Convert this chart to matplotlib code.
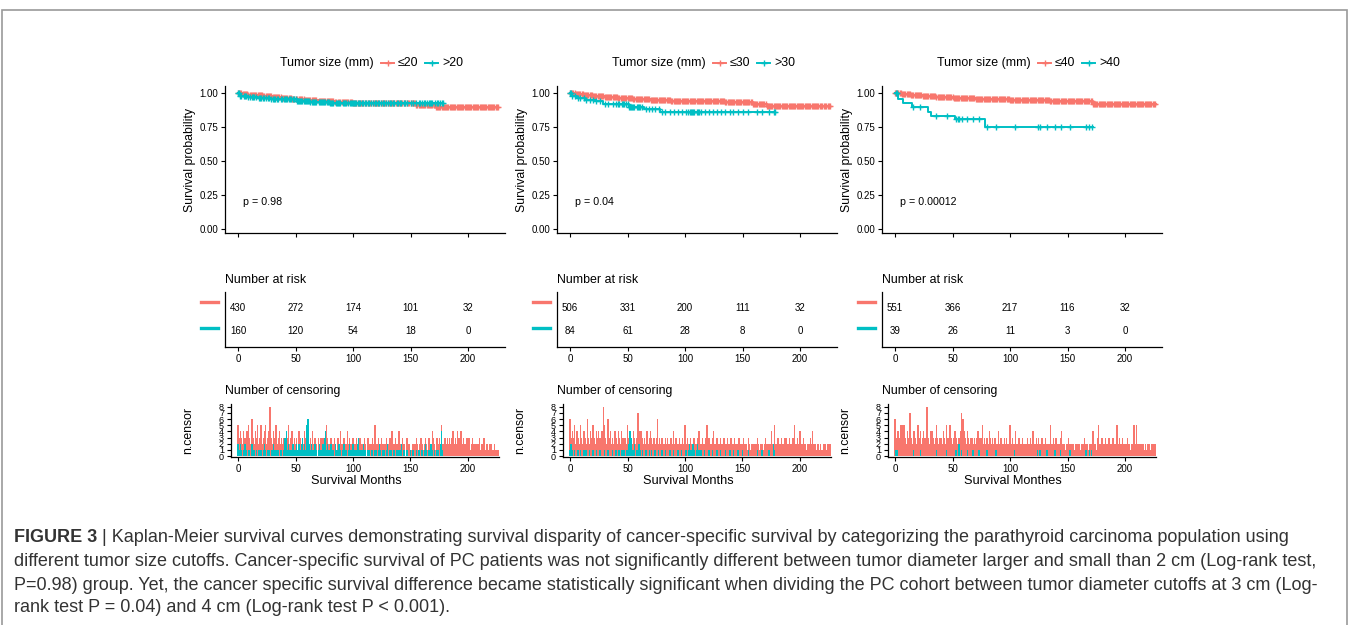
import numpy as np
import matplotlib
matplotlib.use('Agg')
import matplotlib.pyplot as plt
from matplotlib.lines import Line2D
from matplotlib.patches import Rectangle
from matplotlib import font_manager

plt.rcParams['font.family'] = ['Liberation Sans', 'DejaVu Sans']

W, H = 1350, 625
RED = '#F8766D'
TEAL = '#00BFC4'

# ---------------- data ----------------
cutoffs = ['20', '30', '40']
pvals = ['p = 0.98', 'p = 0.04', 'p = 0.00012']
xlabels = ['Survival Months', 'Survival Months', 'Survival Monthes']

risk_times = [0, 50, 100, 150, 200]
risk_lo = [[430, 272, 174, 101, 32], [506, 331, 200, 111, 32], [551, 366, 217, 116, 32]]
risk_hi = [[160, 120, 54, 18, 0], [84, 61, 28, 8, 0], [39, 26, 11, 3, 0]]

# Kaplan-Meier steps (time in months, survival)
km1_lo_t = [0, 4, 9, 15, 22, 30, 38, 47, 58, 70, 84, 100, 130, 155, 172, 226]
km1_lo_s = [1.0, 0.995, 0.99, 0.984, 0.977, 0.97, 0.963, 0.956, 0.949, 0.943, 0.937, 0.932, 0.928, 0.912, 0.898, 0.898]
km1_hi_t = [0, 2, 8, 17, 29, 51, 63, 80, 178]
km1_hi_s = [1.0, 0.983, 0.975, 0.963, 0.956, 0.946, 0.939, 0.929, 0.929]

km2_lo_t = [0, 5, 12, 20, 30, 42, 55, 70, 88, 110, 135, 159, 171, 226]
km2_lo_s = [1.0, 0.993, 0.986, 0.979, 0.972, 0.965, 0.958, 0.952, 0.946, 0.941, 0.936, 0.922, 0.907, 0.907]
km2_hi_t = [0, 1.5, 6, 13, 23, 29, 51, 64, 78, 178]
km2_hi_s = [1.0, 0.98, 0.963, 0.951, 0.94, 0.919, 0.902, 0.882, 0.862, 0.862]

km3_lo_t = [0, 6, 14, 24, 36, 51, 70, 100, 135, 172, 227]
km3_lo_s = [1.0, 0.994, 0.988, 0.98, 0.972, 0.963, 0.957, 0.951, 0.94, 0.918, 0.918]
km3_hi_t = [0, 3, 7, 14.5, 29, 31, 52, 78, 172]
km3_hi_s = [1.0, 0.958, 0.93, 0.897, 0.865, 0.836, 0.809, 0.748, 0.748]

# number censored per month (month 0, 1, 2, ...)
cens1_lo = [5, 3, 4, 3, 2, 4, 3, 1, 4, 5, 3, 2, 6, 3, 2, 4, 3, 5, 2, 3,
            5, 2, 3, 4, 5, 2, 3, 4, 8, 3, 2, 4, 3, 5, 2, 3, 4, 2, 3, 2,
            3, 2, 4, 3, 5, 2, 3, 4, 2, 3, 2, 3, 0, 4, 3, 2, 3, 2, 4, 3,
            2, 3, 2, 3, 2, 4, 2, 3, 2, 0, 3, 2, 3, 2, 3, 2, 2, 5, 3, 2,
            2, 3, 2, 2, 3, 2, 0, 3, 2, 4, 2, 2, 3, 2, 2, 4, 2, 3, 2, 2,
            3, 2, 2, 3, 2, 1, 3, 2, 2, 2, 3, 2, 0, 3, 2, 2, 2, 3, 2, 5,
            2, 2, 3, 2, 2, 3, 2, 1, 2, 3, 2, 2, 3, 2, 4, 2, 2, 3, 2, 2,
            4, 2, 2, 3, 2, 2, 0, 3, 2, 2, 1, 1, 2, 1, 2, 3, 2, 1, 2, 3,
            2, 1, 2, 3, 2, 1, 3, 2, 2, 4, 3, 2, 1, 3, 2, 3, 2, 5, 2, 2,
            3, 2, 3, 2, 3, 2, 3, 4, 2, 3, 2, 4, 3, 2, 4, 2, 3, 2, 2, 3,
            2, 3, 1, 2, 3, 2, 2, 1, 2, 2, 3, 1, 2, 2, 3, 1, 2, 2, 1, 2,
            2, 1, 1, 2, 1, 1, 1]
cens1_hi = [2, 1, 2, 1, 0, 1, 2, 1, 0, 1, 1, 0, 2, 1, 1, 0, 1, 0, 1, 1,
            1, 0, 1, 2, 1, 0, 1, 1, 0, 1, 1, 2, 1, 0, 1, 1, 0, 1, 1, 0,
            1, 3, 4, 1, 2, 1, 1, 0, 2, 1, 1, 2, 1, 2, 1, 2, 3, 1, 2, 1,
            5, 6, 2, 1, 2, 1, 1, 2, 1, 0, 1, 2, 1, 1, 2, 3, 4, 1, 2, 1,
            1, 2, 1, 1, 0, 2, 1, 1, 2, 1, 0, 1, 2, 1, 1, 0, 1, 2, 1, 1,
            2, 1, 1, 1, 2, 3, 1, 0, 1, 2, 1, 1, 0, 1, 1, 0, 1, 1, 0, 1,
            1, 0, 1, 2, 1, 0, 1, 1, 0, 1, 2, 0, 1, 1, 0, 1, 1, 0, 1, 1,
            0, 1, 2, 0, 1, 1, 0, 1, 0, 0, 1, 0, 1, 0, 0, 1, 0, 1, 1, 0,
            1, 0, 1, 2, 1, 0, 1, 1, 2, 1, 0, 1, 0, 1, 1, 0, 2, 4, 1]

cens2_lo = [6, 3, 4, 3, 5, 2, 4, 3, 2, 5, 3, 2, 4, 3, 2, 6, 3, 2, 4, 3,
            5, 3, 2, 4, 3, 4, 3, 2, 4, 8, 5, 3, 2, 6, 3, 4, 2, 3, 2, 4,
            3, 2, 4, 3, 2, 4, 3, 2, 3, 2, 5, 3, 2, 3, 2, 4, 3, 2, 3, 7,
            3, 4, 4, 3, 2, 3, 2, 4, 2, 3, 4, 3, 2, 3, 2, 3, 6, 2, 3, 2,
            3, 2, 2, 3, 2, 3, 2, 2, 3, 2, 4, 2, 3, 2, 2, 3, 2, 2, 3, 2,
            5, 2, 3, 2, 2, 3, 2, 2, 3, 2, 2, 3, 4, 2, 2, 3, 2, 2, 3, 5,
            2, 3, 2, 2, 3, 4, 2, 2, 3, 2, 2, 3, 2, 2, 3, 2, 2, 3, 2, 2,
            3, 2, 2, 3, 2, 2, 2, 3, 2, 2, 2, 3, 2, 2, 1, 3, 2, 1, 2, 2,
            1, 2, 2, 3, 2, 1, 2, 2, 1, 2, 3, 2, 2, 1, 2, 4, 2, 2, 5, 2,
            2, 3, 2, 2, 3, 2, 2, 3, 3, 2, 2, 3, 2, 2, 3, 5, 2, 2, 3, 2,
            4, 2, 2, 3, 2, 2, 1, 2, 2, 3, 2, 4, 2, 2, 1, 2, 2, 1, 2, 1,
            0, 2, 2, 1, 2, 2, 2]
cens2_hi = [1, 2, 1, 0, 1, 0, 0, 1, 0, 1, 0, 0, 1, 0, 1, 0, 0, 1, 0, 0,
            1, 0, 0, 1, 0, 0, 1, 0, 0, 0, 1, 0, 0, 1, 0, 0, 0, 1, 0, 0,
            1, 0, 1, 1, 0, 1, 1, 1, 0, 1, 1, 2, 4, 3, 1, 1, 2, 0, 1, 1,
            2, 1, 0, 1, 0, 0, 1, 0, 0, 1, 0, 1, 0, 0, 1, 0, 0, 1, 0, 0,
            1, 0, 0, 1, 0, 0, 0, 1, 0, 0, 1, 0, 0, 0, 1, 0, 0, 1, 0, 0,
            0, 1, 0, 1, 2, 1, 1, 2, 1, 0, 1, 2, 1, 0, 1, 0, 0, 1, 0, 0,
            0, 1, 0, 0, 1, 0, 0, 0, 1, 0, 0, 1, 0, 0, 0, 1, 0, 0, 0, 1,
            0, 0, 1, 0, 0, 0, 1, 0, 0, 0, 1, 0, 0, 0, 0, 1, 0, 0, 0, 0,
            0, 0, 0, 1, 0, 0, 0, 1, 0, 0, 0, 0, 0, 1, 0, 0, 0, 2, 1]

cens3_lo = [6, 3, 4, 4, 3, 5, 5, 4, 5, 3, 2, 4, 3, 7, 3, 2, 4, 4, 3, 2,
            5, 3, 4, 2, 3, 4, 3, 2, 8, 3, 2, 4, 4, 3, 2, 3, 5, 3, 2, 3,
            3, 2, 4, 3, 2, 5, 3, 2, 5, 3, 2, 3, 4, 3, 2, 3, 3, 4, 7, 6,
            4, 3, 2, 4, 3, 2, 3, 3, 2, 3, 2, 3, 4, 2, 3, 3, 5, 2, 3, 2,
            3, 2, 4, 3, 2, 3, 2, 3, 2, 2, 4, 2, 3, 2, 2, 3, 2, 3, 2, 2,
            5, 2, 3, 2, 2, 4, 2, 2, 3, 2, 2, 3, 2, 2, 2, 3, 2, 2, 3, 2,
            4, 2, 2, 3, 2, 3, 2, 2, 3, 2, 2, 3, 2, 2, 2, 5, 2, 2, 3, 2,
            3, 2, 2, 2, 3, 4, 2, 2, 1, 2, 2, 3, 2, 1, 2, 2, 1, 2, 2, 2,
            2, 1, 2, 2, 2, 3, 2, 2, 1, 2, 2, 2, 4, 2, 2, 1, 3, 5, 2, 2,
            3, 2, 2, 3, 2, 2, 3, 2, 2, 3, 3, 2, 2, 5, 2, 3, 2, 2, 3, 2,
            2, 2, 3, 2, 2, 1, 2, 2, 5, 2, 5, 2, 2, 1, 2, 2, 2, 1, 2, 1,
            2, 2, 1, 2, 2, 2, 2]
# sparse group: months with censoring and counts
cens3_hi_m = [1, 2, 16, 22, 36, 45, 53, 55, 56, 58, 63, 68, 73, 80, 88, 104,
              124, 126, 132, 139, 144, 152, 166, 169, 171]
cens3_hi_n = [1, 1, 1, 1, 1, 1, 1, 2, 2, 1, 1, 1, 1, 1, 1, 1,
              1, 1, 1, 1, 1, 1, 1, 1, 1]

panels = [
    (km1_lo_t, km1_lo_s, km1_hi_t, km1_hi_s,
     np.arange(len(cens1_lo)), cens1_lo, np.arange(len(cens1_hi)), cens1_hi),
    (km2_lo_t, km2_lo_s, km2_hi_t, km2_hi_s,
     np.arange(len(cens2_lo)), cens2_lo, np.arange(len(cens2_hi)), cens2_hi),
    (km3_lo_t, km3_lo_s, km3_hi_t, km3_hi_s,
     np.arange(len(cens3_lo)), cens3_lo, np.array(cens3_hi_m), cens3_hi_n),
]

# ---------------- layout (pixels) ----------------
zero_px = [238, 570, 895]     # x pixel of month 0 in each column
PXM = 1.15                    # pixels per month
XL = (-11, 232)
XL_C = (-6.1, 227)

fig = plt.figure(figsize=(13.5, 6.25), dpi=100)
renderer = fig.canvas.get_renderer()


def px_axes(x0, y0, x1, y1):
    return fig.add_axes([x0 / W, 1 - y1 / H, (x1 - x0) / W, (y1 - y0) / H])


def style(ax):
    for s in ['top', 'right']:
        ax.spines[s].set_visible(False)
    for s in ['left', 'bottom']:
        ax.spines[s].set_linewidth(0.9)
    ax.tick_params(length=3, width=0.8, labelsize=7, pad=2, colors='black')


def ftext(x, y, s, **kw):
    return fig.text(x / W, 1 - y / H, s, **kw)


def surv_at(t, s, m):
    idx = np.searchsorted(t, m, side='right') - 1
    return np.array(s)[idx]


for i, (lt, ls, ht, hs, lm, lc, hm, hc) in enumerate(panels):
    z = zero_px[i]
    lc = np.array(lc)
    hc = np.array(hc)

    # survival curves
    ax = px_axes(z + XL[0] * PXM, 86, z + XL[1] * PXM, 233)
    style(ax)
    for t, s, m, c, col in [(lt, ls, lm, lc, RED), (ht, hs, hm, hc, TEAL)]:
        ax.step(t, s, where='post', color=col, lw=1.4)
        keep = (c > 0) & (m <= t[-1])
        ax.plot(m[keep], surv_at(t, s, m[keep]), '+', color=col, ms=4.5, mew=1.0)
    ax.set_xlim(*XL)
    ax.set_ylim(-0.03, 1.054)
    ax.set_xticks(risk_times)
    ax.set_xticklabels([])
    ax.set_yticks([0, 0.25, 0.5, 0.75, 1.0])
    ax.set_yticklabels(['0.00', '0.25', '0.50', '0.75', '1.00'])
    ax.text(4.3, 0.2, pvals[i], fontsize=7.7, va='center', ha='left')
    ftext(z - 48, 160, 'Survival probability', rotation=90, fontsize=8.8,
          ha='center', va='center')

    # legend on top
    ftext(z + 42, 63, 'Tumor size (mm)', fontsize=8.9, va='center')
    for x0, col, lab in [(z + 143, RED, '\u2264' + cutoffs[i]), (z + 187, TEAL, '>' + cutoffs[i])]:
        fig.add_artist(Line2D([x0 / W, (x0 + 13) / W], [1 - 63 / H] * 2, color=col, lw=1.4))
        fig.add_artist(Line2D([(x0 + 6.5) / W], [1 - 63 / H], marker='+', color=col, ms=4.5, mew=1.0))
        ftext(x0 + 17, 63, lab, fontsize=8.9, va='center')

    # number at risk table
    ftext(z - 13, 280, 'Number at risk', fontsize=8.9, va='center')
    rax = px_axes(z + XL[0] * PXM, 292, z + XL[1] * PXM, 347)
    style(rax)
    rax.set_xlim(*XL)
    rax.set_ylim(-0.69, 1.67)
    rax.set_xticks(risk_times)
    rax.set_yticks([])
    for t, a, b in zip(risk_times, risk_lo[i], risk_hi[i]):
        rax.text(t, 1, str(a), fontsize=7, ha='center', va='center')
        rax.text(t, 0, str(b), fontsize=7, ha='center', va='center')
    for yk, col in [(302, RED), (327.5, TEAL)]:
        fig.add_artist(Line2D([(z - 37) / W, (z - 20) / W], [1 - yk / H] * 2, color=col, lw=2.4))

    # number of censoring
    ftext(z - 13, 391, 'Number of censoring', fontsize=8.9, va='center')
    cax = px_axes(z + XL_C[0] * PXM, 404, z + XL_C[1] * PXM, 457)
    style(cax)
    cax.bar(lm, lc, width=1.25, color=RED, linewidth=0)
    cax.bar(hm, hc, width=1.25, color=TEAL, linewidth=0)
    cax.set_xlim(*XL_C)
    cax.set_ylim(-0.16, 8.44)
    cax.set_xticks(risk_times)
    cax.set_yticks(range(9))
    cax.set_yticklabels([str(k) for k in range(9)])
    cax.tick_params(axis='y', labelsize=6.5)
    ftext(z - 50, 430, 'n.censor', rotation=90, fontsize=8.8, ha='center', va='center')
    ftext(z + 118, 481, xlabels[i], fontsize=9.2, ha='center', va='center')

# ---------------- frame and caption ----------------
fig.add_artist(Rectangle((2 / W, -0.05), 1345 / W, 1.05 - 10 / H, transform=fig.transFigure,
                         fill=False, ec='#9a9a9a', lw=1.2))

names = {f.name for f in font_manager.fontManager.ttflist}
cap_font = 'Liberation Sans Narrow' if 'Liberation Sans Narrow' in names else 'Liberation Sans'
cap_col = '#333333'
cap_bold = 'FIGURE 3'
cap_lines = [
    ' | Kaplan-Meier survival curves demonstrating survival disparity of cancer-specific survival by categorizing the parathyroid carcinoma population using',
    'different tumor size cutoffs. Cancer-specific survival of PC patients was not significantly different between tumor diameter larger and small than 2 cm (Log-rank test,',
    'P=0.98) group. Yet, the cancer specific survival difference became statistically significant when dividing the PC cohort between tumor diameter cutoffs at 3 cm (Log-',
    'rank test P = 0.04) and 4 cm (Log-rank test P < 0.001).',
]
cap_y = [538, 562, 585, 608]


def text_w(s, fs, weight='normal'):
    t = fig.text(0, 0, s, fontsize=fs, family=cap_font, weight=weight)
    w = t.get_window_extent(renderer).width
    t.remove()
    return w


fs = 12.0
w1 = text_w(cap_bold, fs, 'bold') + text_w(cap_lines[0], fs)
fs = fs * 1279 / w1
wb = text_w(cap_bold, fs, 'bold')
ftext(14, cap_y[0], cap_bold, fontsize=fs, family=cap_font, weight='bold', color=cap_col, va='center')
ftext(14 + wb, cap_y[0], cap_lines[0], fontsize=fs, family=cap_font, color=cap_col, va='center')
for s, y in zip(cap_lines[1:], cap_y[1:]):
    ftext(14, y, s, fontsize=fs, family=cap_font, color=cap_col, va='center')

fig.savefig('out.png', dpi=100)
